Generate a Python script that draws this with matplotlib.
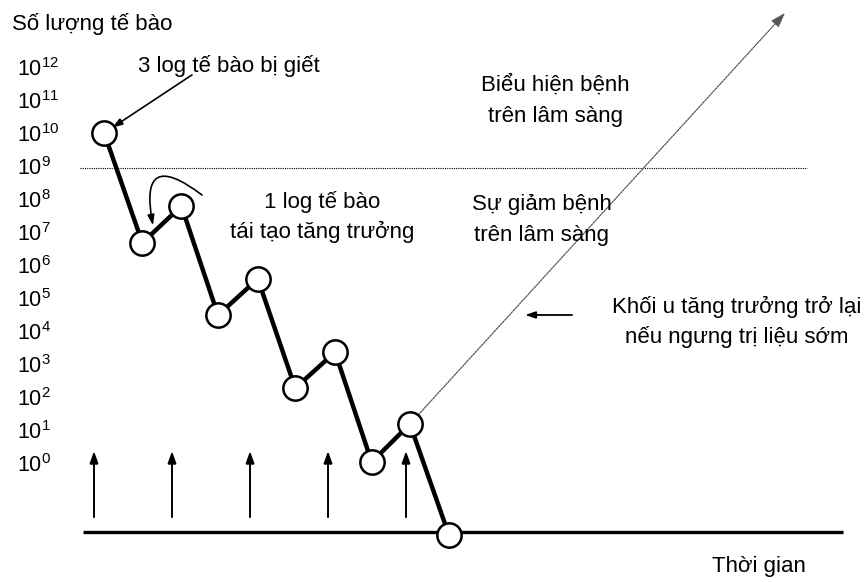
import matplotlib as mpl
mpl.use('Agg')
import matplotlib.pyplot as plt
import numpy as np

plt.rcParams['font.family'] = ['Liberation Sans', 'DejaVu Sans']
plt.rcParams['mathtext.fontset'] = 'custom'
plt.rcParams['mathtext.rm'] = 'Liberation Sans'
plt.rcParams['mathtext.it'] = 'Liberation Sans'

# time in units of treatment cycles, cell counts as log10 exponent
time_points = [1.13, 1.62, 2.12, 2.59, 3.10, 3.58, 4.09, 4.56, 5.05, 5.55]
log_cells = [10.0, 6.67, 7.79, 4.48, 5.58, 2.27, 3.36, 0.03, 1.18, -2.18]
treatments = [1, 2, 3, 4, 5]
tick_exps = list(range(0, 13))
regrowth_end = (9.86, 13.64)
clinical_level = 8.94
baseline_level = -2.09

cells = [10.0 ** e for e in log_cells]

fig = plt.figure(figsize=(8.66, 5.82), dpi=100)
ax = fig.add_axes([60 / 866, 0, 806 / 866, 1])
ax.set_yscale('log')
ax.set_xlim(0.564, 10.897)
ax.set_ylim(10 ** -3.606, 10 ** 14.03)
for s in ax.spines.values():
	s.set_visible(False)
ax.set_xticks([])
ax.set_yticks([10.0 ** e for e in tick_exps])
ax.set_yticklabels(['$10^{%d}$' % e for e in tick_exps])
ax.yaxis.set_minor_locator(mpl.ticker.NullLocator())
ax.tick_params(axis='y', length=0, pad=31, labelsize=15.5)
for lab in ax.get_yticklabels():
	lab.set_horizontalalignment('left')

fs = 16

# clinical detection threshold
ax.plot([0.82, 10.14], [10 ** clinical_level] * 2, color='black', lw=0.8, ls=(0, (1, 1)))
# time axis
ax.plot([0.86, 10.6], [10 ** baseline_level] * 2, color='black', lw=2.4, solid_capstyle='butt')

# regrowth if therapy stops early
ax.annotate('', xy=(regrowth_end[0], 10 ** regrowth_end[1]), xytext=(time_points[8], cells[8]),
	arrowprops=dict(arrowstyle='-|>,head_length=0.9,head_width=0.3', color='#555555', lw=0.9,
		ls=(0, (1.5, 1)), shrinkA=0, shrinkB=0))

# treatment arrows
for t in treatments:
	ax.annotate('', xy=(t, 10 ** 0.36), xytext=(t, 10 ** -1.64),
		arrowprops=dict(arrowstyle='-|>,head_length=0.7,head_width=0.25', color='black', lw=1.4,
			shrinkA=0, shrinkB=0))

ax.plot(time_points, cells, color='black', lw=3.2, marker='o', markersize=17.5,
	markerfacecolor='white', markeredgecolor='black', markeredgewidth=1.8, zorder=5)

fig.text(12 / 866, 1 - 24 / 582, 'Số lượng tế bào', fontsize=fs, ha='left', va='center')
ax.text(9.53, 10 ** -3.15, 'Thời gian', fontsize=fs, ha='center', va='center')

ax.text(2.73, 10 ** 12.03, '3 log tế bào bị giết', fontsize=fs, ha='center', va='center')
ax.annotate('', xy=(time_points[0], cells[0]), xytext=(2.256, 10 ** 11.76),
	arrowprops=dict(arrowstyle='-|>,head_length=0.6,head_width=0.2', color='black', lw=1.2,
		shrinkA=0, shrinkB=7))

ax.text(3.92, 10 ** 7.45, '1 log tế bào\ntái tạo tăng trưởng', fontsize=fs, ha='center',
	va='center', linespacing=1.5)
ax.annotate('', xy=(1.756, 10 ** 7.2), xytext=(2.385, 10 ** 8.12),
	arrowprops=dict(arrowstyle='-|>,head_length=0.6,head_width=0.2', color='black', lw=1.2,
		connectionstyle='arc3,rad=1.3', shrinkA=0, shrinkB=0))

ax.text(6.92, 10 ** 10.97, 'Biểu hiện bệnh\ntrên lâm sàng', fontsize=fs, ha='center',
	va='center', linespacing=1.65)
ax.text(6.74, 10 ** 7.36, 'Sự giảm bệnh\ntrên lâm sàng', fontsize=fs, ha='center',
	va='center', linespacing=1.65)
ax.text(9.24, 10 ** 4.27, 'Khối u tăng trưởng trở lại\nnếu ngưng trị liệu sớm', fontsize=fs,
	ha='center', va='center', linespacing=1.5)
ax.annotate('', xy=(6.526, 10 ** 4.485), xytext=(7.128, 10 ** 4.485),
	arrowprops=dict(arrowstyle='-|>,head_length=0.6,head_width=0.2', color='black', lw=1.3,
		shrinkA=0, shrinkB=0))

fig.savefig('out.png', dpi=100)
